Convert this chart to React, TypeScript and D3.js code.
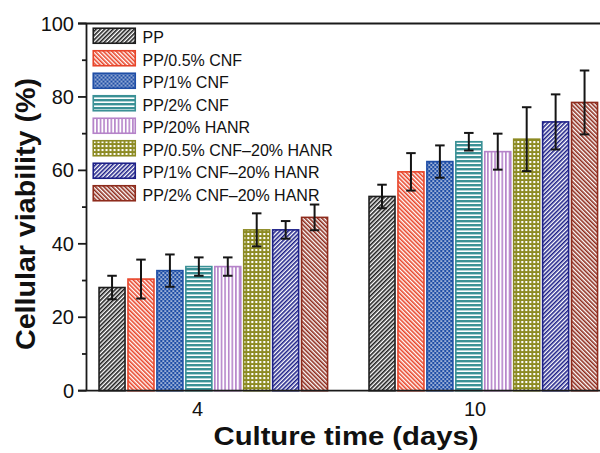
import React from "react";
import * as d3 from "d3";

const categories = ["4", "10"];
const series = [
  "PP",
  "PP/0.5% CNF",
  "PP/1% CNF",
  "PP/2% CNF",
  "PP/20% HANR",
  "PP/0.5% CNF–20% HANR",
  "PP/1% CNF–20% HANR",
  "PP/2% CNF–20% HANR",
];
const valuesDay4 = [28.1, 30.4, 32.7, 33.8, 33.8, 43.8, 43.8, 47.2];
const errorsDay4 = [3.2, 5.3, 4.4, 2.5, 2.5, 4.5, 2.4, 3.5];
const valuesDay10 = [52.9, 59.6, 62.4, 67.8, 65.1, 68.5, 73.2, 78.5];
const errorsDay10 = [3.2, 5.1, 4.4, 2.4, 4.9, 8.7, 7.5, 8.7];
const yTicks = [0, 20, 40, 60, 80, 100];
const yMinorTicks = [10, 30, 50, 70, 90];

const colors = ["#1e1e1e", "#e8452a", "#1f4ea6", "#3b9196", "#b583c9", "#8c8a22", "#1d2088", "#8e2b1c"];
const kinds = ["fwd", "back", "dots", "hlines", "vlines", "grid", "fwd", "back"];

const W = 600;
const H = 453;
const plotLeft = 86.5;
const plotRight = 606;
const plotTop = 23.5;
const plotBottom = 390.7;

const y = d3.scaleLinear().domain([0, 100]).range([plotBottom, plotTop]);
const xGroup = d3.scaleBand<string>().domain(categories).range([98.3, 598.3]).paddingInner(0.148).paddingOuter(0);
const xBar = d3.scaleBand<string>().domain(series).range([0, xGroup.bandwidth()]).paddingInner(0.05).paddingOuter(0);
const xLabel = d3.scalePoint<string>().domain(categories).range([197.5, 475]);

const data = categories.map((c, ci) => ({
  cat: c,
  vals: ci === 0 ? valuesDay4 : valuesDay10,
  errs: ci === 0 ? errorsDay4 : errorsDay10,
}));

function Pattern({ id, kind, color }: { id: string; kind: string; color: string }) {
  if (kind === "fwd" || kind === "back") {
    return (
      <pattern id={id} patternUnits="userSpaceOnUse" width={3.0} height={3.0} patternTransform={`rotate(${kind === "fwd" ? 45 : -45})`}>
        <rect width={3.0} height={3.0} fill="#fff" />
        <rect x={0} y={0} width={1.6} height={3.0} fill={color} />
      </pattern>
    );
  }
  if (kind === "hlines") {
    return (
      <pattern id={id} patternUnits="userSpaceOnUse" width={4} height={4}>
        <rect width={4} height={4} fill="#fff" />
        <rect x={0} y={0} width={4} height={2.4} fill={color} />
      </pattern>
    );
  }
  if (kind === "vlines") {
    return (
      <pattern id={id} patternUnits="userSpaceOnUse" width={3.6} height={3.6}>
        <rect width={3.6} height={3.6} fill="#fff" />
        <rect x={0} y={0} width={1.6} height={3.6} fill={color} />
      </pattern>
    );
  }
  if (kind === "dots") {
    return (
      <pattern id={id} patternUnits="userSpaceOnUse" width={4} height={4}>
        <rect width={4} height={4} fill={color} />
        <circle cx={1} cy={1} r={0.85} fill="#fff" />
        <circle cx={3} cy={3} r={0.85} fill="#fff" />
      </pattern>
    );
  }
  return (
    <pattern id={id} patternUnits="userSpaceOnUse" width={4} height={4}>
      <rect width={4} height={4} fill={color} />
      <rect x={1} y={1} width={2.1} height={2.1} fill="#fff" />
    </pattern>
  );
}

export default function App() {
  const capW = 9.5;
  const font = "Arial, 'Liberation Sans', Helvetica, sans-serif";
  const legendX = 92.5;
  const legendY0 = 27.5;
  const legendStep = 22.5;
  return (
    <svg width={W} height={H} viewBox={`0 0 ${W} ${H}`} style={{ position: "absolute", left: 0, top: 0, background: "#fff" }} fontFamily={font}>
      <defs>
        {series.map((s, i) => (
          <Pattern key={s} id={`pat${i}`} kind={kinds[i]} color={colors[i]} />
        ))}
      </defs>
      <rect width={W} height={H} fill="#fff" />

      {/* bars */}
      {data.map((g) => (
        <g key={g.cat} transform={`translate(${xGroup(g.cat)},0)`}>
          {series.map((s, i) => {
            const x0 = xBar(s)!;
            const bw = xBar.bandwidth();
            const v = g.vals[i];
            return (
              <rect
                key={s}
                x={x0 + 0.75}
                y={y(v)}
                width={bw - 1.5}
                height={y(0) - y(v)}
                fill={`url(#pat${i})`}
                stroke={colors[i]}
                strokeWidth={1.6}
              />
            );
          })}
          {series.map((s, i) => {
            const cx = xBar(s)! + xBar.bandwidth() / 2;
            const v = g.vals[i];
            const e = g.errs[i];
            return (
              <g key={s + "e"} stroke="#151515" strokeWidth={2}>
                <line x1={cx} x2={cx} y1={y(v + e)} y2={y(v - e)} />
                <line x1={cx - capW / 2} x2={cx + capW / 2} y1={y(v + e)} y2={y(v + e)} />
                <line x1={cx - capW / 2} x2={cx + capW / 2} y1={y(v - e)} y2={y(v - e)} />
              </g>
            );
          })}
        </g>
      ))}

      {/* axes */}
      <g stroke="#1a1a1a" strokeWidth={1.8} fill="none">
        <line x1={plotLeft} x2={plotLeft} y1={plotTop} y2={plotBottom} />
        <line x1={78} x2={plotRight} y1={plotBottom} y2={plotBottom} />
        <line x1={78} x2={plotRight} y1={plotTop} y2={plotTop} />
        {yTicks.map((t) => (
          <line key={t} x1={78} x2={plotLeft} y1={y(t)} y2={y(t)} />
        ))}
        {yMinorTicks.map((t) => (
          <line key={t} x1={82} x2={plotLeft} y1={y(t)} y2={y(t)} />
        ))}
      </g>
      {yTicks.map((t) => (
        <text key={t} x={74} y={y(t)} dy="0.35em" textAnchor="end" fontSize={20} fill="#111">
          {t}
        </text>
      ))}
      {categories.map((c) => (
        <text key={c} x={xLabel(c)} y={415.5} textAnchor="middle" fontSize={20} fill="#111">
          {c}
        </text>
      ))}
      <text x={346} y={445} textAnchor="middle" fontSize={26} fontWeight="bold" fill="#111" textLength={265} lengthAdjust="spacingAndGlyphs">
        Culture time (days)
      </text>
      <text
        transform={`translate(35,214) rotate(-90)`}
        textAnchor="middle"
        fontSize={27}
        fontWeight="bold"
        fill="#111"
        textLength={272}
        lengthAdjust="spacingAndGlyphs"
      >
        Cellular viability (%)
      </text>

      {/* legend */}
      {series.map((s, i) => (
        <g key={s} transform={`translate(${legendX},${legendY0 + i * legendStep})`}>
          <rect x={0.75} y={0.75} width={42} height={15} fill={`url(#pat${i})`} stroke={colors[i]} strokeWidth={1.6} />
          <text x={50} y={15.5} fontSize={16} fill="#111">
            {s}
          </text>
        </g>
      ))}
    </svg>
  );
}
